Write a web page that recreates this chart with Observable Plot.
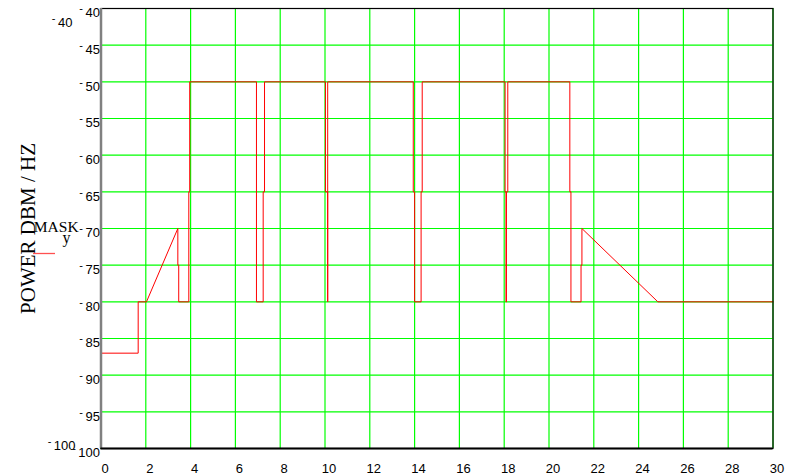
<!DOCTYPE html>
<html><head><meta charset="utf-8">
<script src="https://cdn.jsdelivr.net/npm/d3@7"></script>
<script src="https://cdn.jsdelivr.net/npm/@observablehq/plot@0.6"></script>
<style>body{margin:0;background:#fff;} svg{display:block}</style>
</head><body><div id="chart"></div>
<script>
// Mask polyline (frequency, power dBm/Hz)
const maskX = [0, 1.66, 1.66, 2.03, 3.43, 3.43, 3.47, 3.47, 3.92, 3.92, 3.96, 3.96,
  6.94, 6.94, 7.24, 7.24, 7.30, 7.30,
  10.02, 10.02, 10.12, 10.12, 10.12,
  13.94, 13.94, 14.0, 14.0, 14.29, 14.29, 14.34, 14.34,
  18.04, 18.04, 18.08, 18.08, 18.10, 18.10, 18.16, 18.16,
  20.93, 20.93, 20.98, 20.98, 21.43, 21.43, 21.47, 21.47, 24.86, 30];
const maskY = [-87, -87, -80, -80, -70, -75, -75, -80, -80, -65, -65, -50,
  -50, -80, -80, -65, -65, -50,
  -50, -65, -65, -80, -50,
  -50, -65, -65, -80, -80, -65, -65, -50,
  -50, -65, -65, -80, -80, -65, -65, -50,
  -50, -65, -65, -80, -80, -75, -75, -70, -80, -80];
const xTicks = [0, 2, 4, 6, 8, 10, 12, 14, 16, 18, 20, 22, 24, 26, 28, 30];
const yTicks = [-100, -95, -90, -85, -80, -75, -70, -65, -60, -55, -50, -45, -40];
const yTitle = "POWER DBM / HZ";
const legendName = "MASK";
const legendSub = "y";
const yTopLimit = "-40";
const yBottomLimit = "-100";

const data = maskX.map((x, i) => ({x, y: maskY[i]}));
const serif = "'Liberation Serif', 'Times New Roman', serif";

const chart = Plot.plot({
  width: 792, height: 475,
  marginLeft: 100.5, marginRight: 19.5, marginTop: 8, marginBottom: 27,
  x: {domain: [0, 30]},
  y: {domain: [-100, -40]},
  style: {fontFamily: "'Liberation Sans', Arial, sans-serif", fontSize: "13px", background: "white", color: "black"},
  marks: [
    Plot.gridX(xTicks, {stroke: "#00ff00", strokeOpacity: 1, strokeWidth: 1.2}),
    Plot.gridY(yTicks, {stroke: "#00ff00", strokeOpacity: 1, strokeWidth: 1.2}),
    Plot.line(data, {x: "x", y: "y", stroke: "#ff0000", strokeWidth: 1}),
    Plot.frame({stroke: "black", strokeWidth: 1.2}),
    Plot.ruleX([0], {stroke: "#808080", strokeWidth: 2.5}),
    Plot.ruleY([-100], {stroke: "black", strokeWidth: 2}),
    Plot.axisX(xTicks, {tickSize: 0, tickPadding: 15, dx: 4, label: null, fill: "black", fontSize: 13}),
    Plot.axisY(yTicks, {tickSize: 0, tickPadding: 1, dy: 4.5, label: null, fill: "black", fontSize: 13, tickFormat: d => String(d)}),
    Plot.text([yTitle], {frameAnchor: "left", text: d => d, textAnchor: "middle", lineAnchor: "middle", rotate: -90, dx: -73, fontFamily: serif, fontSize: 21, fill: "black"}),
    Plot.text([legendName], {frameAnchor: "top-left", text: d => d, textAnchor: "start", lineAnchor: "bottom", dx: -67.2, dy: 223.7, fontFamily: serif, fontSize: 15.5, fill: "black"}),
    Plot.text([legendSub], {frameAnchor: "top-left", text: d => d, textAnchor: "start", lineAnchor: "bottom", dx: -38.5, dy: 234, fontFamily: serif, fontSize: 16, fill: "black"}),
    Plot.text([yTopLimit], {frameAnchor: "top-left", text: d => d, textAnchor: "end", lineAnchor: "middle", dx: -28.5, dy: 14.5, fontSize: 13, fill: "black"}),
    Plot.text([yBottomLimit], {frameAnchor: "bottom-left", text: d => d, textAnchor: "end", lineAnchor: "middle", dx: -25.5, dy: -2.5, fontSize: 13, fill: "black"})
  ]
});

document.getElementById("chart").appendChild(chart);

// Raised Mathcad-style minus signs
d3.select(chart).selectAll("text").each(function() {
  const t = this.textContent;
  if (/^[-\u2212]\d/.test(t)) {
    const digits = t.slice(1);
    const sel = d3.select(this);
    sel.text("");
    sel.append("tspan").attr("font-size", "11px").attr("baseline-shift", "5px").text("-");
    sel.append("tspan").attr("dx", 2.5).text(digits);
  }
});

// Legend line sample
d3.select(chart).append("line")
  .attr("x1", 33).attr("x2", 55).attr("y1", 253.5).attr("y2", 253.5)
  .attr("stroke", "#ff5050").attr("stroke-width", 1.3);
</script>
</body></html>
